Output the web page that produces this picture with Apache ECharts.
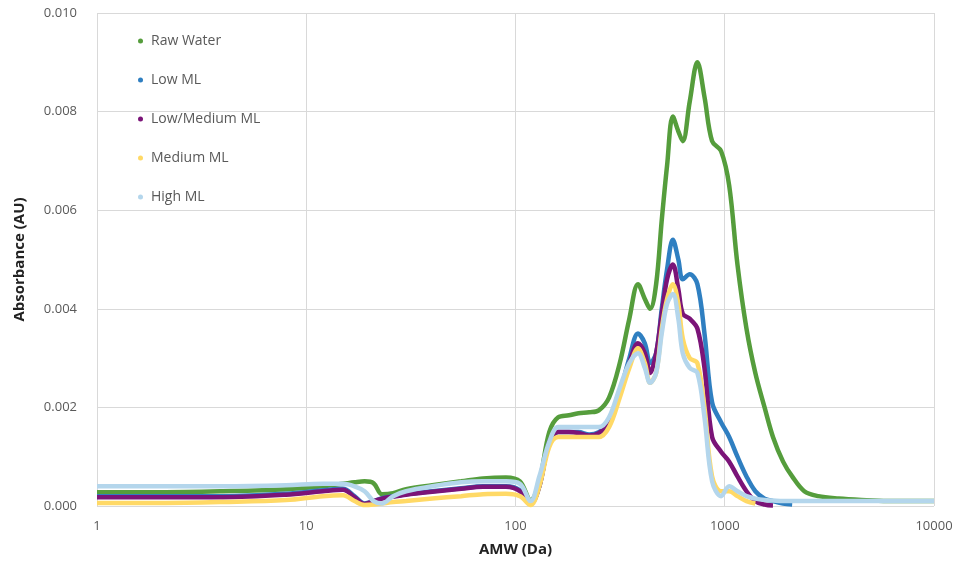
<!DOCTYPE html>
<html>
<head>
<meta charset="utf-8">
<script src="https://cdn.jsdelivr.net/npm/echarts@6/dist/echarts.min.js"></script>
<style>
  html, body { margin: 0; padding: 0; background: #fff; }
  #chart { width: 959px; height: 567px; }
</style>
</head>
<body>
<div id="chart"></div>
<script>
// AMW (Da) sample points, shared by every series
var amw = [1, 2, 4, 8, 12, 15, 17, 19, 21, 23, 26, 30, 40, 55, 70, 90, 105, 118, 130, 145,
  160, 180, 200, 225, 250, 280, 315, 350, 385, 415, 440, 470, 500, 530, 565, 600, 630, 680, 740, 800,
  870, 960, 1050, 1150, 1270, 1400, 1550, 1700, 1900, 2100, 2400, 2800, 3500, 4500, 6000, 8000, 10000];

var rawWater = [0.00028, 0.00028, 0.0003, 0.00034, 0.0004, 0.00045, 0.00048, 0.0005, 0.00046, 0.00024, 0.00026, 0.00034, 0.00042, 0.0005, 0.00056, 0.00058, 0.0005, 0.00012, 0.0005, 0.0015,
  0.0018, 0.00184, 0.00188, 0.0019, 0.00194, 0.0022, 0.0029, 0.0038, 0.0045, 0.0042, 0.004, 0.0045, 0.0058, 0.0069, 0.0079, 0.0076, 0.0074, 0.0082, 0.009, 0.0083,
  0.0074, 0.0072, 0.0065, 0.0049, 0.0036, 0.0027, 0.002, 0.0014, 0.0009, 0.0006, 0.0003, 0.0002, 0.00015, 0.00012, 0.0001, 0.0001, 0.0001];

var lowML = [0.0002, 0.0002, 0.0002, 0.00025, 0.00032, 0.00035, 0.0002, 0.00005, 0.0001, 0.00016, 0.0002, 0.00024, 0.0003, 0.00036, 0.0004, 0.0004, 0.00032, 0.00005, 0.0004, 0.0013,
  0.0015, 0.0015, 0.0015, 0.00145, 0.0015, 0.0017, 0.0023, 0.003, 0.0035, 0.0033, 0.0029, 0.0031, 0.004, 0.0048, 0.0054, 0.005, 0.0046, 0.0047, 0.0045, 0.0035,
  0.0021, 0.0017, 0.0014, 0.001, 0.0006, 0.0003, 0.00015, 0.0001, 0.00005, 0.00003, null, null, null, null, null, null, null];

var lowMedML = [0.00018, 0.00018, 0.00018, 0.00023, 0.0003, 0.00033, 0.00018, 0.00004, 0.0001, 0.00015, 0.00019, 0.00023, 0.00029, 0.00035, 0.00039, 0.00039, 0.0003, 0.00004, 0.0004, 0.0013,
  0.0015, 0.0015, 0.00148, 0.00143, 0.00148, 0.0017, 0.0023, 0.0029, 0.0033, 0.0031, 0.0027, 0.0031, 0.0039, 0.0046, 0.0049, 0.0044, 0.0039, 0.0038, 0.0036, 0.0028,
  0.0014, 0.0011, 0.0009, 0.0006, 0.0003, 0.0001, 0.00003, 0.00001, null, null, null, null, null, null, null, null, null];

var mediumML = [0.00006, 0.00006, 0.00008, 0.00012, 0.0002, 0.00022, 0.0001, 0.00002, 0.00003, 0.00005, 0.00008, 0.0001, 0.00015, 0.0002, 0.00024, 0.00025, 0.0002, 0.00002, 0.0004, 0.0012,
  0.0014, 0.0014, 0.0014, 0.0014, 0.0014, 0.0016, 0.0022, 0.0028, 0.0032, 0.0029, 0.0025, 0.0027, 0.0036, 0.0042, 0.0045, 0.0041, 0.0034, 0.003, 0.0029, 0.002,
  0.0006, 0.0003, 0.0003, 0.0002, 0.0001, 0.00005, null, null, null, null, null, null, null, null, null, null, null];

var highML = [0.0004, 0.0004, 0.0004, 0.00042, 0.00045, 0.00045, 0.0004, 0.0003, 0.0001, 0.00005, 0.0002, 0.0003, 0.0004, 0.00048, 0.0005, 0.0005, 0.00045, 0.0001, 0.0006, 0.0013,
  0.0016, 0.0016, 0.0016, 0.0016, 0.0016, 0.0018, 0.0024, 0.0029, 0.0031, 0.0028, 0.0025, 0.0027, 0.0035, 0.0041, 0.0043, 0.0038, 0.0031, 0.0028, 0.0027, 0.0018,
  0.0005, 0.0002, 0.0004, 0.0003, 0.0002, 0.00015, 0.00012, 0.00011, 0.0001, 0.0001, 0.0001, 0.0001, 0.0001, 0.0001, 0.0001, 0.0001, 0.0001];

var seriesNames = ['Raw Water', 'Low ML', 'Low/Medium ML', 'Medium ML', 'High ML'];
var seriesValues = [rawWater, lowML, lowMedML, mediumML, highML];
var seriesColors = ['#559d3c', '#2f7fc1', '#7b1478', '#ffd966', '#b4d6ec'];

function pairs(vals) {
  return amw.map(function (a, i) { return [a, vals[i] == null ? '-' : vals[i]]; });
}

var chart = echarts.init(document.getElementById('chart'));
var option = {
  backgroundColor: '#fff',
  animation: false,
  grid: { left: 97, right: 25, top: 13, bottom: 61 },
  legend: {
    orient: 'vertical',
    left: 133,
    top: 29,
    itemGap: 25,
    itemWidth: 5,
    itemHeight: 5,
    icon: 'circle',
    textStyle: { color: '#595959', fontSize: 14, fontFamily: 'Open Sans', padding: [0, 0, 0, 3] },
    data: seriesNames
  },
  xAxis: {
    type: 'log',
    logBase: 10,
    min: 1,
    max: 10000,
    name: 'AMW (Da)',
    nameLocation: 'middle',
    nameGap: 36,
    nameTextStyle: { color: '#222', fontSize: 15, fontWeight: 'bold', fontFamily: 'Open Sans' },
    axisLine: { show: false },
    axisTick: { show: false },
    axisLabel: {
      color: '#595959', fontSize: 13, margin: 14, fontFamily: 'Open Sans',
      formatter: function (v) { return String(Math.round(v)); }
    },
    splitLine: { show: true, lineStyle: { color: '#d9d9d9', width: 1 } },
    minorTick: { show: false }
  },
  yAxis: {
    type: 'value',
    min: 0,
    max: 0.01,
    interval: 0.002,
    name: 'Absorbance (AU)',
    nameLocation: 'middle',
    nameGap: 70,
    nameTextStyle: { color: '#222', fontSize: 15, fontWeight: 'bold', fontFamily: 'Open Sans' },
    axisLine: { show: false },
    axisTick: { show: false },
    axisLabel: {
      color: '#595959', fontSize: 13, margin: 20, fontFamily: 'Open Sans',
      formatter: function (v) { return v.toFixed(3); }
    },
    splitLine: { lineStyle: { color: '#d9d9d9', width: 1 } }
  },
  series: seriesNames.map(function (name, k) {
    return {
      name: name,
      type: 'line',
      data: pairs(seriesValues[k]),
      smooth: 0.35,
      showSymbol: false,
      symbol: 'circle',
      symbolSize: 5,
      connectNulls: false,
      itemStyle: { color: seriesColors[k] },
      lineStyle: { color: seriesColors[k], width: 4.5 }
    };
  })
};
chart.setOption(option);
</script>
</body>
</html>
